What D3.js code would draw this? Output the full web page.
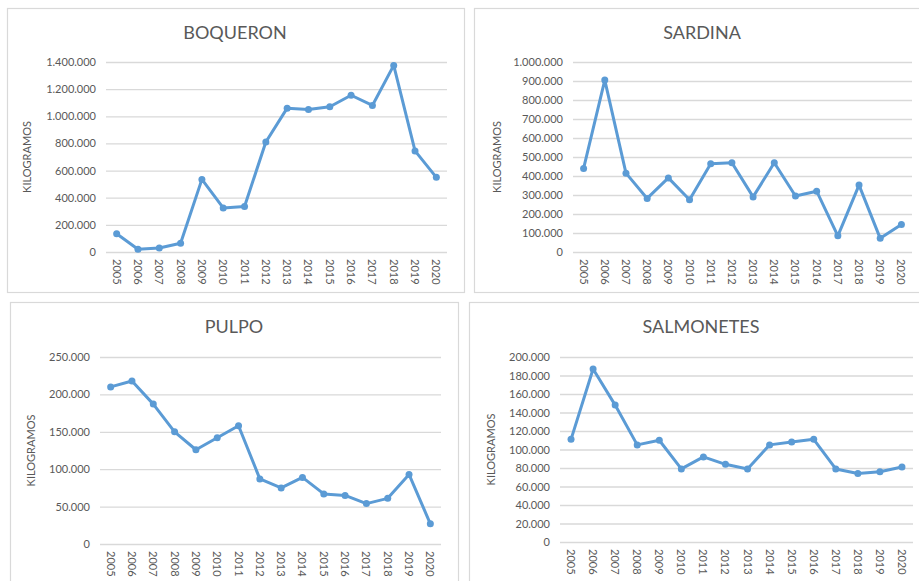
<!DOCTYPE html>
<html>
<head>
<meta charset="utf-8">
<script src="https://cdn.jsdelivr.net/npm/d3@7"></script>
<style>
  body { margin: 0; background: #fff; }
  svg { display: block; font-family: Lato, "Open Sans", sans-serif; }
</style>
</head>
<body>
<svg id="chart" width="919" height="581"></svg>
<script>
// years shared by all four charts
var years = ['2005', '2006', '2007', '2008', '2009', '2010', '2011', '2012',
             '2013', '2014', '2015', '2016', '2017', '2018', '2019', '2020'];

// catches in kilograms
var boqueron = [135000, 20000, 30000, 65000, 535000, 325000, 335000, 810000,
                1060000, 1050000, 1070000, 1155000, 1080000, 1375000, 745000, 550000];
var sardina = [440000, 905000, 415000, 282000, 390000, 275000, 465000, 470000,
               290000, 470000, 295000, 320000, 85000, 352000, 72000, 145000];
var pulpo = [210000, 218000, 187000, 150000, 126000, 142000, 158000, 87000,
             75000, 89000, 67000, 65000, 54000, 61000, 93000, 27000];
var salmonetes = [111000, 187000, 148000, 105000, 110000, 79000, 92000, 84000,
                  79000, 105000, 108000, 111000, 79000, 74000, 76000, 81000];

// y tick values for each chart
var boqueronTicks = [0, 200000, 400000, 600000, 800000, 1000000, 1200000, 1400000];
var sardinaTicks = [0, 100000, 200000, 300000, 400000, 500000, 600000, 700000, 800000, 900000, 1000000];
var pulpoTicks = [0, 50000, 100000, 150000, 200000, 250000];
var salmonetesTicks = [0, 20000, 40000, 60000, 80000, 100000, 120000, 140000, 160000, 180000, 200000];

var svg = d3.select('#chart');
var textColor = '#595959';
var lineColor = '#5B9BD5';
var gridColor = '#D9D9D9';

// spanish number format: 1.400.000
var fmt = d3.formatLocale({decimal: ',', thousands: '.', grouping: [3], currency: ['', '']}).format(',d');

function drawPanel(cfg) {
    var g = svg.append('g');

    // panel frame
    g.append('rect')
        .attr('x', cfg.box[0] + 0.5).attr('y', cfg.box[1] + 0.5)
        .attr('width', cfg.box[2] - cfg.box[0]).attr('height', cfg.box[3] - cfg.box[1])
        .attr('fill', '#fff').attr('stroke', gridColor).attr('stroke-width', 1.2);

    var x = d3.scalePoint().domain(years).range([cfg.left, cfg.right]).padding(0.5);
    var y = d3.scaleLinear().domain([0, d3.max(cfg.ticks)]).range([cfg.bottom, cfg.top]);

    // y axis with gridlines
    var yAxis = g.append('g')
        .attr('transform', 'translate(' + cfg.left + ',0)')
        .call(d3.axisLeft(y).tickValues(cfg.ticks).tickFormat(fmt)
            .tickSize(-(cfg.right - cfg.left)).tickPadding(10));
    yAxis.select('.domain').remove();
    yAxis.selectAll('line').attr('stroke', gridColor).attr('stroke-width', 1.3);
    yAxis.selectAll('text').attr('fill', textColor).style('font-size', '11px')
        .style('font-family', 'Lato, "Open Sans", sans-serif');

    // x labels, rotated
    g.selectAll('.xl').data(years).enter().append('text')
        .attr('transform', function(d) { return 'translate(' + (x(d) - 4) + ',' + (cfg.bottom + 7) + ') rotate(90)'; })
        .attr('fill', textColor).style('font-size', '11px')
        .text(function(d) { return d; });

    // title
    g.append('text')
        .attr('x', cfg.titleX).attr('y', cfg.titleY)
        .attr('text-anchor', 'middle').attr('fill', textColor)
        .style('font-size', '18px').style('font-weight', 400)
        .text(cfg.title);

    // y axis title
    g.append('text')
        .attr('transform', 'translate(' + cfg.ylabX + ',' + ((cfg.top + cfg.bottom) / 2) + ') rotate(-90)')
        .attr('text-anchor', 'middle').attr('fill', textColor)
        .style('font-size', '11px')
        .text('KILOGRAMOS');

    var line = d3.line()
        .x(function(d, i) { return x(years[i]); })
        .y(function(d) { return y(d); });

    g.append('path').datum(cfg.values)
        .attr('d', line).attr('fill', 'none')
        .attr('stroke', lineColor).attr('stroke-width', 3)
        .attr('stroke-linejoin', 'round');

    g.selectAll('.pt').data(cfg.values).enter().append('circle')
        .attr('cx', function(d, i) { return x(years[i]); })
        .attr('cy', function(d) { return y(d); })
        .attr('r', 3.5).attr('fill', lineColor);
}

drawPanel({title: 'BOQUERON', values: boqueron, ticks: boqueronTicks,
    box: [7, 8, 464, 292], left: 106, right: 447, top: 62, bottom: 252,
    titleX: 235, titleY: 39, ylabX: 31});
drawPanel({title: 'SARDINA', values: sardina, ticks: sardinaTicks,
    box: [474, 8, 930, 292], left: 573, right: 912, top: 62, bottom: 252,
    titleX: 702, titleY: 39, ylabX: 501});
drawPanel({title: 'PULPO', values: pulpo, ticks: pulpoTicks,
    box: [10, 302, 458, 600], left: 100, right: 441, top: 357, bottom: 544,
    titleX: 234, titleY: 333, ylabX: 35});
drawPanel({title: 'SALMONETES', values: salmonetes, ticks: salmonetesTicks,
    box: [469, 302, 930, 600], left: 560, right: 913, top: 357, bottom: 542,
    titleX: 701, titleY: 333, ylabX: 495});
</script>
</body>
</html>
